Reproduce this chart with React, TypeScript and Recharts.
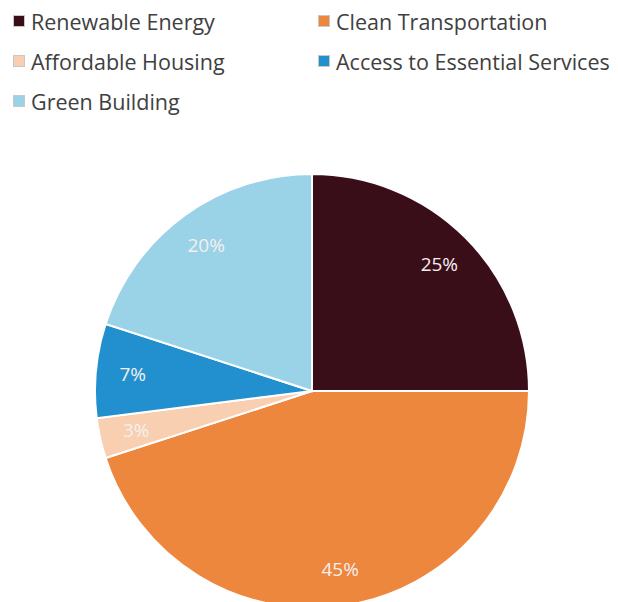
import { PieChart, Pie, Cell } from 'recharts';

const categories = [
  'Renewable Energy',
  'Clean Transportation',
  'Affordable Housing',
  'Access to Essential Services',
  'Green Building',
];
const shares = [25, 45, 3, 7, 20];
const colors = ['#3a0e19', '#ee873e', '#f8cfb0', '#2290cf', '#9ad3e8'];

const data = categories.map((name, i) => ({ name, value: shares[i] }));

const RADIAN = Math.PI / 180;

function PctLabel(props: any) {
  const { cx, cy, midAngle, outerRadius, value } = props;
  const r = outerRadius * 0.83;
  const x = cx + r * Math.cos(-midAngle * RADIAN);
  const y = cy + r * Math.sin(-midAngle * RADIAN);
  return (
    <text
      x={x}
      y={y}
      fill="#f4f0ee"
      textAnchor="middle"
      dominantBaseline="central"
      fontSize={19}
      fontFamily="'Open Sans', sans-serif"
    >
      {value}%
    </text>
  );
}

const legendPos = [
  { left: 13, top: 21 },
  { left: 318, top: 21 },
  { left: 13, top: 61 },
  { left: 318, top: 61 },
  { left: 13, top: 101 },
];

export default function App() {
  return (
    <div style={{ position: 'absolute', left: 0, top: 0, width: 618, height: 602, background: '#fff', overflow: 'hidden' }}>
      {categories.map((c, i) => (
        <div
          key={c}
          style={{
            position: 'absolute',
            left: legendPos[i].left,
            top: legendPos[i].top - 13,
            height: 26,
            display: 'flex',
            alignItems: 'center',
            fontFamily: "'Open Sans', sans-serif",
            fontSize: 21.5,
            color: '#404040',
            whiteSpace: 'nowrap',
          }}
        >
          <span
            style={{
              display: 'inline-block',
              width: 10,
              height: 10,
              background: colors[i],
              border: '1px solid #c8c8c8',
              marginRight: 6,
            }}
          />
          {c}
        </div>
      ))}
      <PieChart
        width={618}
        height={602}
        margin={{ top: 0, right: 0, bottom: 0, left: 0 }}
        style={{ position: 'absolute', left: 0, top: 0 }}
      >
        <Pie
          data={data}
          dataKey="value"
          nameKey="name"
          cx={312}
          cy={391}
          outerRadius={217}
          startAngle={90}
          endAngle={-270}
          stroke="#ffffff"
          strokeWidth={2}
          label={PctLabel}
          labelLine={false}
          isAnimationActive={false}
        >
          {data.map((d, i) => (
            <Cell key={d.name} fill={colors[i]} />
          ))}
        </Pie>
      </PieChart>
    </div>
  );
}
